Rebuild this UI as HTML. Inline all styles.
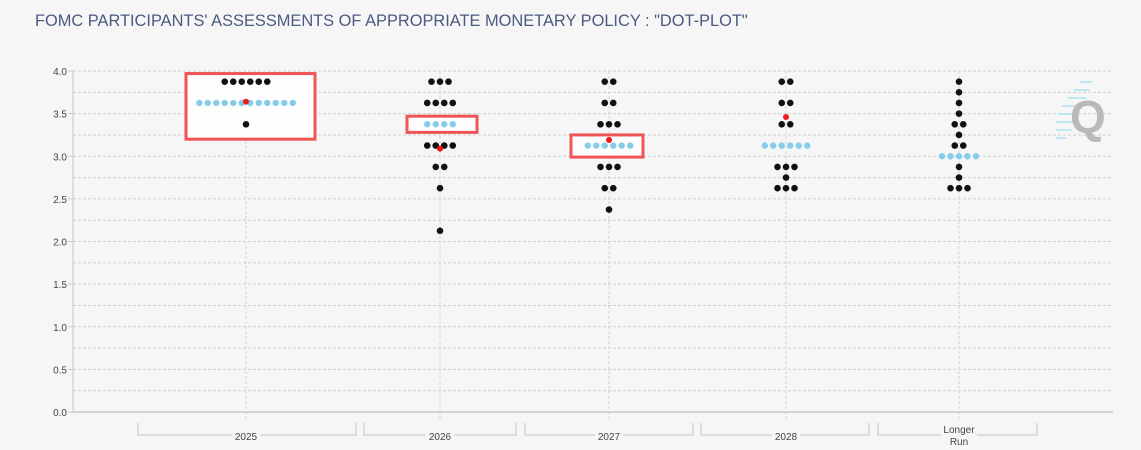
<!DOCTYPE html>
<html><head><meta charset="utf-8"><style>
body{margin:0;background:#f6f6f6;}
svg{display:block;font-family:"Liberation Sans",sans-serif;}
</style></head><body>
<svg id="c" width="1141" height="450">
<rect width="1141" height="450" fill="#f6f6f6"/>
<text x="35" y="26" font-size="16.4" fill="#4a5a80">FOMC PARTICIPANTS' ASSESSMENTS OF APPROPRIATE MONETARY POLICY : "DOT-PLOT"</text>
<g id="grid"></g><g id="boxes"></g><g id="dots"></g>
<g>
<g stroke="#aee0f3" stroke-width="1.5"><line x1="1080" y1="82" x2="1092" y2="82"/><line x1="1074" y1="90" x2="1090" y2="90"/><line x1="1068" y1="98" x2="1086" y2="98"/><line x1="1062" y1="106" x2="1082" y2="106"/><line x1="1058" y1="114" x2="1080" y2="114"/><line x1="1056" y1="122" x2="1076" y2="122"/><line x1="1056" y1="130" x2="1072" y2="130"/><line x1="1056" y1="138" x2="1066" y2="138"/></g>
<text x="1070" y="133" font-size="46" font-weight="bold" fill="#b9b9b9">Q</text></g>
</svg>
<script>
const levels=[3.875,3.75,3.625,3.5,3.375,3.25,3.125,3.0,2.875,2.75,2.625,2.375,2.125];
const categories=["2025","2026","2027","2028","Longer Run"];
const counts2025=[6,0,0,0,1,0,0,0,0,0,0,0,0];
const counts2026=[3,0,4,0,4,0,4,0,2,0,1,0,1];
const counts2027=[2,0,2,0,3,0,6,0,3,0,2,1,0];
const counts2028=[2,0,2,0,2,0,6,0,3,1,3,0,0];
const countsLR=[1,1,1,1,2,1,2,5,1,1,3,0,0];
const counts2025b=[0,0,12,0,0,0,0,0,0,0,0,0,0];
const medianLevels=[3.625,3.375,3.125,3.125,3.0];
const means=[3.64,3.09,3.19,3.46,null];
const yTicks=[0,0.5,1,1.5,2,2.5,3,3.5,4];
const allCounts=[counts2025.map((c,i)=>c+counts2025b[i]),counts2026,counts2027,counts2028,countsLR];
const NS="http://www.w3.org/2000/svg";
const X0=73,X1=1113,Y0=412,Y4=71;
const y=v=>Y0-(v/4)*(Y0-Y4);
const centers=[246,440,609,786,959];
const xc=i=>centers[i];
const brackets=[[138,356],[364,516],[525,693],[701,869],[878,1037]];
function mk(t,a,p){const e=document.createElementNS(NS,t);for(const k in a)e.setAttribute(k,a[k]);(p||document.getElementById('c')).appendChild(e);return e;}
const g=document.getElementById('grid');
for(let v=0.25;v<=4.001;v+=0.25){const l=mk('line',{x1:X0,x2:X1,y1:y(v),y2:y(v),stroke:'#cfcfcf','stroke-dasharray':'3,2'},g);

}
centers.forEach((c,i)=>{const l=mk('line',{x1:c,x2:c,y1:Y4,y2:Y0+8,stroke:'#d4d4d4','stroke-dasharray':'3,2'},g);

});
const ax=mk('line',{x1:X0,x2:X0,y1:Y4,y2:Y0,stroke:'#c8c8c8'},g);


const bx=mk('line',{x1:X0,x2:X1,y1:Y0,y2:Y0,stroke:'#c8c8c8','stroke-width':1.5},g);


yTicks.forEach(v=>{mk('line',{x1:X0-5,x2:X0,y1:y(v),y2:y(v),stroke:'#c8c8c8'},g);
const t=mk('text',{x:X0-6,y:y(v)+4,'font-size':10,'text-anchor':'end',fill:'#444'},g);t.textContent=v.toFixed(1);

});
categories.forEach((c,i)=>{const[a,b]=brackets[i];
const p=mk('path',{d:`M${a} 423V435H${b}V423`,fill:'none',stroke:'#c4c4c4'},g);


if(c==="Longer Run"){const bg=mk('rect',{x:xc(i)-18,y:426,width:36,height:14,fill:'#f6f6f6'},g);
const t1=mk('text',{x:xc(i),y:433,'font-size':10,'text-anchor':'middle',fill:'#444'},g);t1.textContent="Longer";
const t2=mk('text',{x:xc(i),y:445,'font-size':10,'text-anchor':'middle',fill:'#444'},g);t2.textContent="Run";

}
else{mk('rect',{x:xc(i)-14,y:430,width:28,height:10,fill:'#f6f6f6'},g);
const t=mk('text',{x:xc(i),y:440,'font-size':10,'text-anchor':'middle',fill:'#444'},g);t.textContent=c;

}});
const bxg=document.getElementById('boxes');
function box(x1,x2,y1,y2){const r=mk('rect',{x:x1,y:y1,width:x2-x1,height:y2-y1,fill:'#fdfdfd',stroke:'#f05454','stroke-width':3},bxg);

}
box(186,315,y(3.97),y(3.2));
box(407,477,y(3.47),y(3.28));
box(571,643,y(3.25),y(2.99));
const d=document.getElementById('dots');const sp=8.5;
allCounts.forEach((arr,i)=>{levels.forEach((lv,j)=>{const n=arr[j];const med=lv===medianLevels[i];
for(let k=0;k<n;k++){const cx=xc(i)+(k-(n-1)/2)*sp;
const e=mk('circle',{cx:cx,cy:y(lv),r:med?3.2:3.3,fill:med?'#86cdec':'#111'},d);

}});
if(means[i]!=null){const m=mk('circle',{cx:xc(i),cy:y(means[i]),r:3,fill:'#f01818'},d);

}});
</script>
</body></html>
